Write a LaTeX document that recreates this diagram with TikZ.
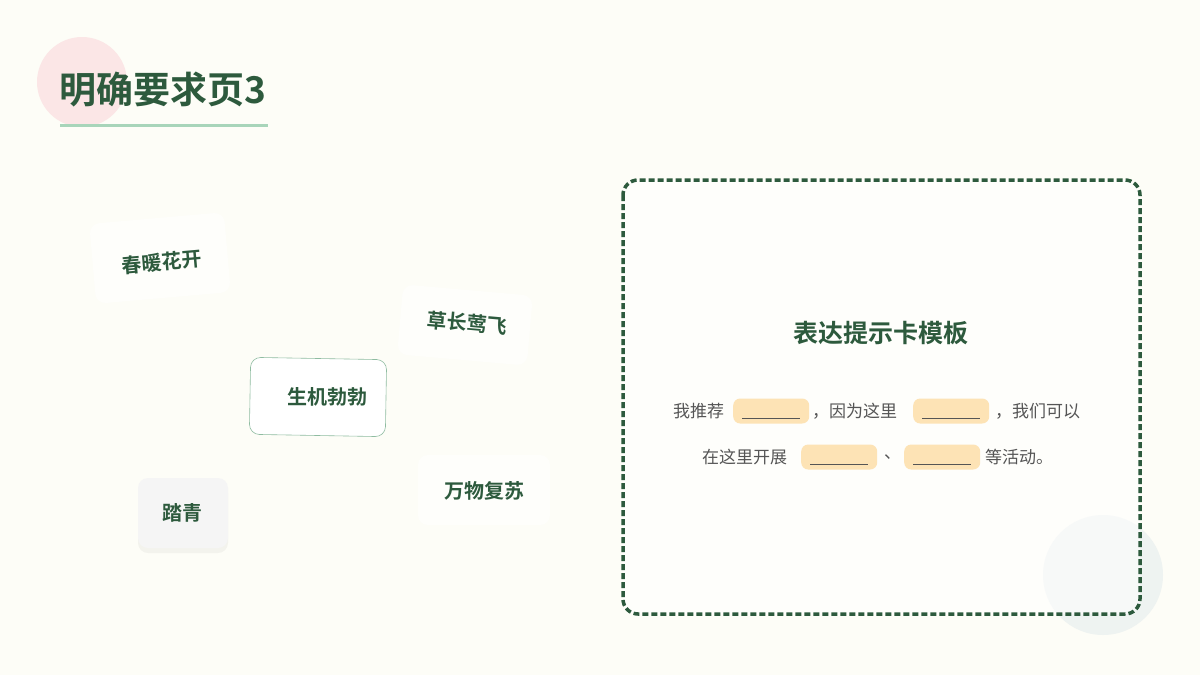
\documentclass[tikz,border=0pt]{standalone}
\usepackage{fontspec}
\setmainfont{Noto Sans CJK SC}
\newfontfamily\cjkb{Noto Sans CJK SC Bold}
\usetikzlibrary{shadows}
\definecolor{bg}{HTML}{FDFDF7}
\definecolor{dg}{HTML}{2D5A3D}
\definecolor{pinkc}{HTML}{FBE6E6}
\definecolor{lg}{HTML}{A8D5BA}
\definecolor{blank}{HTML}{FDE3B5}
\definecolor{txt}{HTML}{555555}
\definecolor{circ}{HTML}{EEF3F1}
\tikzset{
  word/.style={text=dg,font=\cjkb\fontsize{20}{20}\selectfont,inner sep=0pt},
  card/.style={fill=white,fill opacity=0.6,rounded corners=10pt,draw=none},
  body/.style={text=txt,font=\fontsize{17}{17}\selectfont,inner sep=0pt,anchor=west},
  blk/.style={fill=blank,rounded corners=7pt,minimum width=76pt,minimum height=25pt,inner sep=0pt,anchor=west,
    path picture={\draw[txt,line width=0.8pt] ([xshift=9pt,yshift=-7pt]path picture bounding box.west) -- ([xshift=-9pt,yshift=-7pt]path picture bounding box.east);}},
}
\begin{document}
\begin{tikzpicture}[x=1pt,y=-1pt]
\useasboundingbox (0,0) rectangle (1200,675);
\fill[bg] (0,0) rectangle (1200,675);
\fill[pinkc] (82,82) circle (45);
\node[text=dg,font=\cjkb\fontsize{37}{37}\selectfont,anchor=west,inner sep=0pt] (title) at (59,90) {明确要求页3};
\draw[lg,line width=3pt] (60,125) -- (268,125);
% cards
\node[card,rotate=5,minimum width=135pt,minimum height=80pt] (c1) at (160,258) {};
\node[word,rotate=5] (t1) at (162,262) {春暖花开};
\node[card,rotate=-5,minimum width=130pt,minimum height=70pt] (c2) at (465,325) {};
\node[word,rotate=-5] (t2) at (467,323) {草长莺飞};
\node[fill=white,draw=lg!80!dg,line width=0.6pt,rounded corners=10pt,rotate=-1,minimum width=136pt,minimum height=77pt] (c3) at (318,397) {};
\node[word] (t3) at (327,397) {生机勃勃};
\node[fill=white!96!black,rounded corners=10pt,minimum width=90pt,minimum height=70pt,drop shadow={opacity=0.08,shadow xshift=0pt,shadow yshift=-5pt}] (c4) at (183,513) {};
\node[word] (t4) at (182,513) {踏青};
\node[card,minimum width=132pt,minimum height=70pt] (c5) at (484,490) {};
\node[word] (t5) at (484,491) {万物复苏};
% right panel
\fill[circ] (1103,575) circle (60);
\draw[dg,line width=3.5pt,dash pattern=on 6pt off 3pt,rounded corners=15pt,fill=white,fill opacity=0.55] (623,180) rectangle (1140,614);
\node[text=dg,font=\cjkb\fontsize{25}{25}\selectfont,inner sep=0pt] (ptitle) at (881,333) {表达提示卡模板};
\node[body] (a1) at (673,411) {我推荐};
\node[blk] (b1) at (733,411) {};
\node[body] (a2) at (812,411) {，因为这里};
\node[blk] (b2) at (913,411) {};
\node[body] (a3) at (995,411) {，我们可以};
\node[body] (a4) at (702,457) {在这里开展};
\node[blk] (b3) at (801,457) {};
\node[body] (a5) at (884,457) {、};
\node[blk] (b4) at (904,457) {};
\node[body] (a6) at (985,457) {等活动。};
\end{tikzpicture}
\end{document}
